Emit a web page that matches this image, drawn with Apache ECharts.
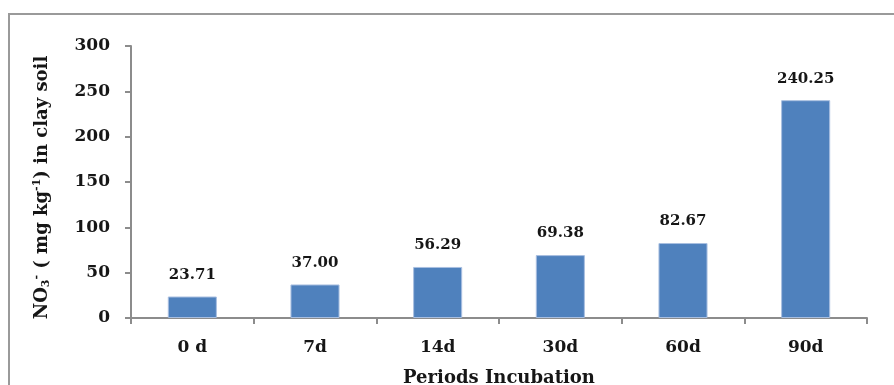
<!DOCTYPE html>
<html>
<head>
<meta charset="utf-8">
<script src="https://cdn.jsdelivr.net/npm/echarts@6/dist/echarts.min.js"></script>
<style>
  html, body { margin: 0; padding: 0; background: #fff; }
  #chart { width: 894px; height: 385px; }
</style>
</head>
<body>
<div id="chart"></div>
<script>
// Incubation periods and nitrate content in clay soil
const periods = ['0 d', '7d', '14d', '30d', '60d', '90d'];
const nitrate = [23.71, 37.00, 56.29, 69.38, 82.67, 240.25];
const yTicks = [0, 50, 100, 150, 200, 250, 300];

const serif = '"DejaVu Serif", "Liberation Serif", serif';
const axisGray = '#8c8c8c';
const ink = '#161616';

const chart = echarts.init(document.getElementById('chart'), null, { renderer: 'canvas' });

chart.setOption({
  animation: false,
  backgroundColor: '#fff',
  graphic: [{
    type: 'rect',
    shape: { x: 9, y: 14, width: 900, height: 400 },
    style: { fill: 'none', stroke: '#9a9a9a', lineWidth: 2 },
    silent: true
  }],
  grid: { left: 131, right: 27, top: 46, bottom: 67, containLabel: false, outerBoundsMode: 'none' },
  xAxis: {
    type: 'category',
    data: periods,
    name: 'Periods Incubation',
    nameLocation: 'middle',
    nameGap: 51,
    nameTextStyle: { fontFamily: serif, fontWeight: 'bold', fontSize: 18, color: ink },
    axisLine: { lineStyle: { color: axisGray, width: 2 } },
    axisTick: { show: true, alignWithLabel: false, length: 6, lineStyle: { color: axisGray, width: 2 } },
    axisLabel: { fontFamily: serif, fontWeight: 'bold', fontSize: 17, color: ink, margin: 21 }
  },
  yAxis: {
    type: 'value',
    min: yTicks[0],
    max: yTicks[yTicks.length - 1],
    interval: 50,
    name: '{n|NO}{sub|3}{sup|-}{n| ( mg kg}{sup|-1}{n|) in clay soil}',
    nameLocation: 'middle',
    nameGap: 78,
    nameRotate: 90,
    nameTextStyle: {
      fontFamily: serif, fontWeight: 'bold', fontSize: 18, color: ink,
      padding: [0, 11, 0, 0],
      rich: {
        n: { fontFamily: serif, fontWeight: 'bold', fontSize: 18, color: ink, lineHeight: 22 },
        sub: { fontFamily: serif, fontWeight: 'bold', fontSize: 11, color: ink, lineHeight: 22, padding: [9, 0, 0, 0] },
        sup: { fontFamily: serif, fontWeight: 'bold', fontSize: 11, color: ink, lineHeight: 22, padding: [0, 0, 9, 0] }
      }
    },
    splitLine: { show: false },
    axisLine: { show: true, lineStyle: { color: axisGray, width: 2 } },
    axisTick: { show: true, length: 6, lineStyle: { color: axisGray, width: 2 } },
    axisLabel: { fontFamily: serif, fontWeight: 'bold', fontSize: 17, color: ink, margin: 21 }
  },
  series: [{
    type: 'bar',
    data: nitrate,
    barWidth: '40%',
    itemStyle: { color: '#4f81bd', borderColor: '#a9bfe0', borderWidth: 1 },
    label: {
      show: true,
      position: 'top',
      distance: 14,
      fontFamily: serif,
      fontWeight: 'bold',
      fontSize: 15,
      color: ink,
      formatter: p => p.value.toFixed(2)
    }
  }]
});
</script>
</body>
</html>
